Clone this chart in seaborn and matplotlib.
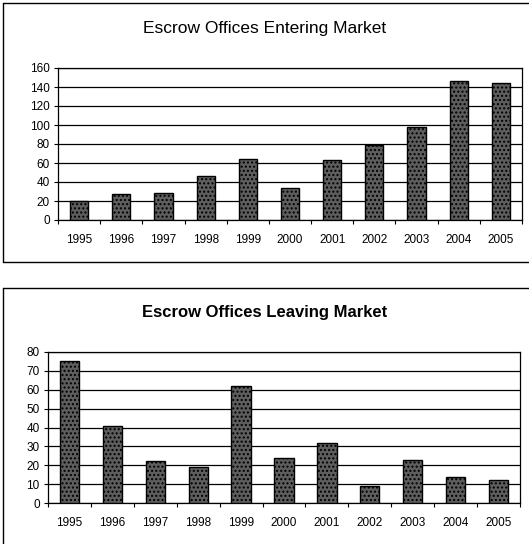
import matplotlib
matplotlib.use("Agg")
import matplotlib.pyplot as plt
import seaborn as sns
import pandas as pd
from matplotlib.lines import Line2D

years = ["1995", "1996", "1997", "1998", "1999", "2000", "2001", "2002", "2003", "2004", "2005"]
entering = [20, 27, 28, 46, 64, 34, 63, 79, 98, 146, 144]
leaving = [75, 41, 22, 19, 62, 24, 32, 9, 23, 14, 12]

entering_ticks = [0, 20, 40, 60, 80, 100, 120, 140, 160]
leaving_ticks = [0, 10, 20, 30, 40, 50, 60, 70, 80]

sns.set_theme(style="white")
plt.rcParams["font.family"] = ["Liberation Sans", "DejaVu Sans"]

fig = plt.figure(figsize=(5.29, 5.44), dpi=100)
W, H = 529, 544


def fx(px):
    return px / W


def fy(py):
    return 1 - py / H


def panel(ax, values, ticks, title, title_y, title_weight, title_size, bar_width):
    df = pd.DataFrame({"year": years, "count": values})
    sns.barplot(data=df, x="year", y="count", ax=ax, color="#5e5e5e",
                edgecolor="black", linewidth=1.0, width=bar_width,
                saturation=1, zorder=3)
    for p in ax.patches:
        p.set_hatch("....")
        p.set_edgecolor("black")
    ax.set_ylim(ticks[0], ticks[-1])
    ax.set_yticks(ticks)
    ax.set_xlabel("")
    ax.set_ylabel("")
    ax.yaxis.grid(True, color="black", linewidth=0.9, zorder=0)
    ax.set_axisbelow(True)
    for s in ax.spines.values():
        s.set_color("black")
        s.set_linewidth(0.9)
    ax.tick_params(axis="x", length=0, labelsize=8.5, pad=10, colors="black")
    ax.tick_params(axis="y", length=3, labelsize=8.5, pad=3, colors="black",
                   left=True, direction="out", width=0.8)
    # small separators between categories on the baseline
    ax.set_xticks([i + 0.5 for i in range(-1, len(years))], minor=True)
    ax.tick_params(axis="x", which="minor", length=3, bottom=True,
                   direction="out", width=0.8, color="black")
    fig.text(0.5, title_y, title, ha="center", va="center", fontsize=title_size,
             fontweight=title_weight, color="black")


ax1 = fig.add_axes([fx(58), fy(220), fx(522 - 58), (220 - 68) / H])
panel(ax1, entering, entering_ticks, "Escrow Offices Entering Market",
      fy(28), "normal", 12.5, 0.43)

ax2 = fig.add_axes([fx(48), fy(503), fx(520 - 48), (503 - 352) / H])
panel(ax2, leaving, leaving_ticks, "Escrow Offices Leaving Market",
      fy(312), "bold", 12, 0.45)

# chart frames
frame = dict(color="black", linewidth=1.0, transform=fig.transFigure)
fig.add_artist(Line2D([fx(3), fx(3)], [fy(3), fy(262)], **frame))
fig.add_artist(Line2D([fx(3), fx(529)], [fy(3), fy(3)], **frame))
fig.add_artist(Line2D([fx(3), fx(529)], [fy(262), fy(262)], **frame))
fig.add_artist(Line2D([fx(3), fx(3)], [fy(288), fy(544)], **frame))
fig.add_artist(Line2D([fx(3), fx(529)], [fy(288), fy(288)], **frame))

fig.savefig("out.png", dpi=100, facecolor="white")
